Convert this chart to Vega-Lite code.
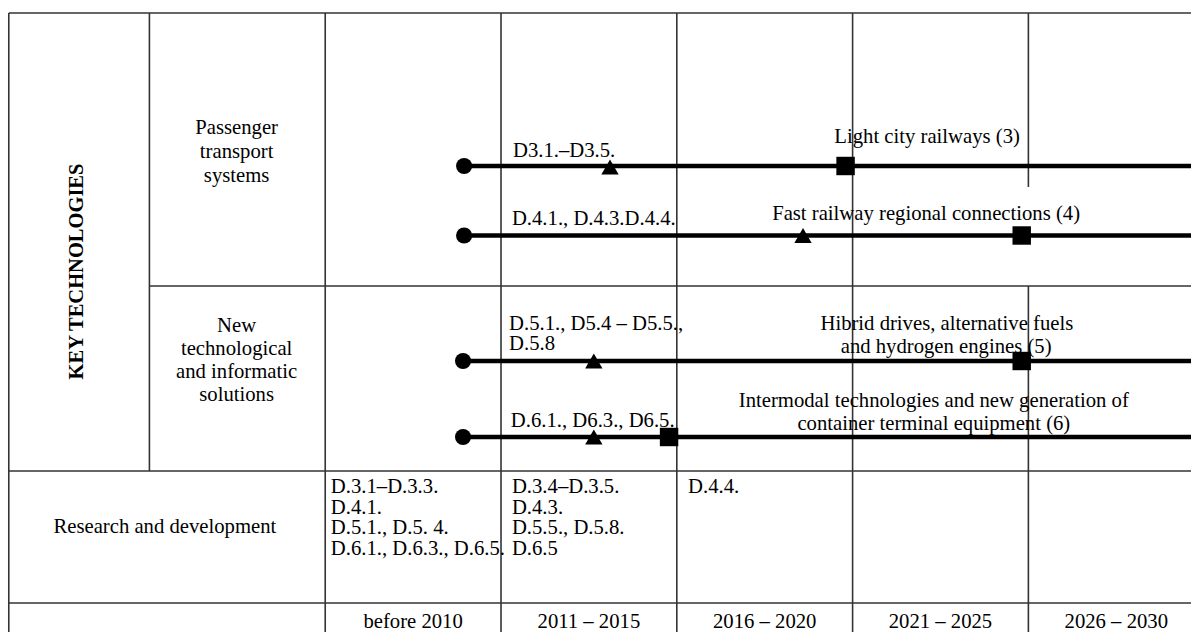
{
  "$schema": "https://vega.github.io/schema/vega-lite/v6.json",
  "width": 1191,
  "height": 632,
  "padding": 0,
  "autosize": {"type": "none"},
  "background": "white",
  "config": {"view": {"stroke": null}},
  "datasets": {
    "grid": [
      {"x": 1996, "x2": 2029.625, "v": 13, "v2": 13},
      {"x": 1996, "x2": 1996, "v": 13, "v2": 632},
      {"x": 2000, "x2": 2000, "v": 13, "v2": 471},
      {"x": 2005, "x2": 2005, "v": 13, "v2": 632},
      {"x": 2010, "x2": 2010, "v": 13, "v2": 632},
      {"x": 2015, "x2": 2015, "v": 13, "v2": 632},
      {"x": 2020, "x2": 2020, "v": 13, "v2": 632},
      {"x": 2025, "x2": 2025, "v": 13, "v2": 187},
      {"x": 2025, "x2": 2025, "v": 286, "v2": 632},
      {"x": 2000, "x2": 2029.625, "v": 286, "v2": 286},
      {"x": 1996, "x2": 2029.625, "v": 471, "v2": 471},
      {"x": 1996, "x2": 2029.625, "v": 603, "v2": 603}
    ],
    "timelines": [
      {"x": 2008.95, "x2": 2029.625, "v": 166},
      {"x": 2008.95, "x2": 2029.625, "v": 235.5},
      {"x": 2008.92, "x2": 2029.625, "v": 361},
      {"x": 2008.92, "x2": 2029.625, "v": 437}
    ],
    "markers": [
      {"x": 2008.95, "v": 166, "kind": "start"},
      {"x": 2008.95, "v": 235.5, "kind": "start"},
      {"x": 2008.92, "v": 361, "kind": "start"},
      {"x": 2008.92, "v": 437, "kind": "start"},
      {"x": 2013.10, "v": 167, "kind": "milestone"},
      {"x": 2018.59, "v": 235.5, "kind": "milestone"},
      {"x": 2012.64, "v": 361, "kind": "milestone"},
      {"x": 2012.64, "v": 437, "kind": "milestone"},
      {"x": 2019.80, "v": 166, "kind": "implementation"},
      {"x": 2024.81, "v": 235.5, "kind": "implementation"},
      {"x": 2024.81, "v": 361, "kind": "implementation"},
      {"x": 2014.78, "v": 437, "kind": "implementation"}
    ],
    "leftText": [
      {"x": 2010.34, "v": 157, "t": "D3.1.–D3.5."},
      {"x": 2010.31, "v": 225, "t": "D.4.1., D.4.3.D.4.4."},
      {"x": 2010.23, "v": 330, "t": "D.5.1., D5.4 – D5.5.,"},
      {"x": 2010.23, "v": 350, "t": "D.5.8"},
      {"x": 2010.28, "v": 427, "t": "D.6.1., D6.3., D6.5."},
      {"x": 2005.16, "v": 493, "t": "D.3.1–D.3.3."},
      {"x": 2005.16, "v": 513.5, "t": "D.4.1."},
      {"x": 2005.16, "v": 534, "t": "D.5.1., D.5. 4."},
      {"x": 2005.16, "v": 555, "t": "D.6.1., D.6.3., D.6.5."},
      {"x": 2010.31, "v": 493, "t": "D.3.4–D.3.5."},
      {"x": 2010.31, "v": 513.5, "t": "D.4.3."},
      {"x": 2010.31, "v": 534, "t": "D.5.5., D.5.8."},
      {"x": 2010.31, "v": 555, "t": "D.6.5"},
      {"x": 2015.32, "v": 493, "t": "D.4.4."}
    ],
    "centerText": [
      {"x": 2022.12, "v": 143, "t": "Light city railways (3)"},
      {"x": 2022.09, "v": 220, "t": "Fast railway regional connections (4)"},
      {"x": 2022.68, "v": 330, "t": "Hibrid drives, alternative fuels"},
      {"x": 2022.66, "v": 353, "t": "and hydrogen engines (5)"},
      {"x": 2022.31, "v": 407, "t": "Intermodal technologies and new generation of"},
      {"x": 2022.31, "v": 430, "t": "container terminal equipment (6)"},
      {"x": 2002.48, "v": 134, "t": "Passenger"},
      {"x": 2002.48, "v": 158, "t": "transport"},
      {"x": 2002.48, "v": 182, "t": "systems"},
      {"x": 2002.48, "v": 332, "t": "New"},
      {"x": 2002.48, "v": 355, "t": "technological"},
      {"x": 2002.48, "v": 378, "t": "and informatic"},
      {"x": 2002.48, "v": 401, "t": "solutions"},
      {"x": 2000.44, "v": 533, "t": "Research and development"},
      {"x": 2007.5, "v": 628, "t": "before 2010"},
      {"x": 2012.5, "v": 628, "t": "2011 – 2015"},
      {"x": 2017.5, "v": 628, "t": "2016 – 2020"},
      {"x": 2022.5, "v": 628, "t": "2021 – 2025"},
      {"x": 2027.5, "v": 628, "t": "2026 – 2030"}
    ],
    "heading": [
      {"x": 1998.11, "v": 271.5, "t": "KEY TECHNOLOGIES"}
    ]
  },
  "encoding": {
    "x": {"field": "x", "type": "quantitative", "scale": {"domain": [1995.75, 2029.625], "nice": false, "zero": false}, "axis": null},
    "y": {"field": "v", "type": "quantitative", "scale": {"domain": [0, 632], "reverse": true, "nice": false, "zero": false}, "axis": null}
  },
  "layer": [
    {
      "data": {"name": "grid"},
      "mark": {"type": "rule", "color": "#333333", "strokeWidth": 1.6},
      "encoding": {
        "x2": {"field": "x2"},
        "y2": {"field": "v2"}
      }
    },
    {
      "data": {"name": "timelines"},
      "mark": {"type": "rule", "color": "black", "strokeWidth": 4.5},
      "encoding": {
        "x2": {"field": "x2"}
      }
    },
    {
      "data": {"name": "markers"},
      "mark": {"type": "point", "filled": true, "color": "black", "opacity": 1},
      "encoding": {
        "shape": {"field": "kind", "type": "nominal", "scale": {"domain": ["start", "milestone", "implementation"], "range": ["circle", "triangle-up", "square"]}, "legend": null},
        "size": {"field": "kind", "type": "ordinal", "scale": {"domain": ["start", "milestone", "implementation"], "range": [260, 340, 265]}, "legend": null}
      }
    },
    {
      "data": {"name": "leftText"},
      "mark": {"type": "text", "align": "left", "baseline": "alphabetic", "font": "Liberation Serif", "fontSize": 20.7, "color": "black"},
      "encoding": {"text": {"field": "t"}}
    },
    {
      "data": {"name": "centerText"},
      "mark": {"type": "text", "align": "center", "baseline": "alphabetic", "font": "Liberation Serif", "fontSize": 20.7, "color": "black"},
      "encoding": {"text": {"field": "t"}}
    },
    {
      "data": {"name": "heading"},
      "mark": {"type": "text", "align": "center", "baseline": "alphabetic", "font": "Liberation Serif", "fontSize": 20.5, "fontWeight": "bold", "angle": 270, "color": "black"},
      "encoding": {"text": {"field": "t"}}
    }
  ]
}
